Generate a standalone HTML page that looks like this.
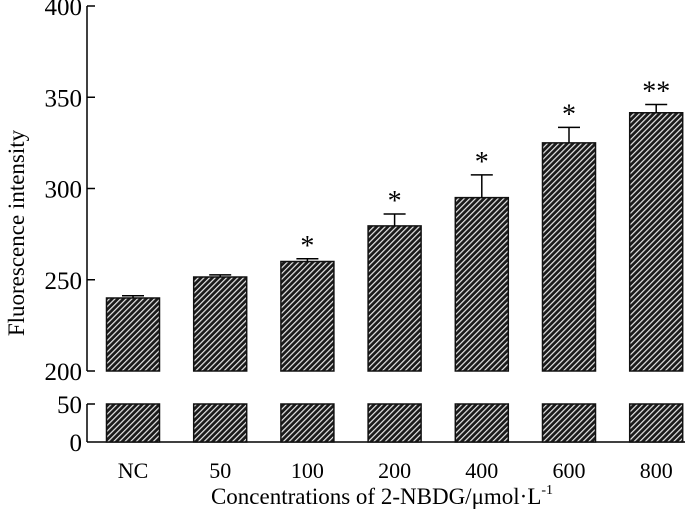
<!DOCTYPE html>
<html><head><meta charset="utf-8"><style>
html,body{margin:0;padding:0;background:#fff;}
svg{display:block;font-family:"Liberation Serif",serif;}
</style></head><body>
<svg id="chart" width="700" height="518" viewBox="0 0 700 518">
<defs>
<pattern id="hatch" patternUnits="userSpaceOnUse" width="4" height="4" patternTransform="rotate(45)">
<rect width="4" height="4" fill="#1a1a1a"/>
<rect x="0" y="0" width="1.2" height="4" fill="#e8e8e8"/>
</pattern>
</defs>
<g id="axes"></g>
<g id="bars"></g>
<text transform="translate(24,233) rotate(-90)" text-anchor="middle" font-size="23">Fluorescence intensity</text>
<text x="382" y="504" text-anchor="middle" font-size="23">Concentrations of 2-NBDG/μmol·L<tspan dy="-10" font-size="14">-1</tspan></text>
</svg>
<script>
const categories = ["NC","50","100","200","400","600","800"];
const values = [240, 251.5, 260, 279.5, 295, 325, 341.5];
const errors = [1.2, 1.2, 1.5, 6.5, 12.5, 8.5, 4.5];
const stars = ["", "", "*", "*", "*", "*", "**"];
const upperTicks = [200, 250, 300, 350, 400];
const lowerTicks = [0, 50];

const NS = "http://www.w3.org/2000/svg";
const axisX = 87, upBottom = 371, upTop = 6, lowBottom = 442, lowTop = 404;
function yUp(v){ return upBottom - (v - 200) / 200 * (upBottom - upTop); }
function yLow(v){ return lowBottom - v / 50 * (lowBottom - lowTop); }
function xC(i){ return 133 + i * 87.2; }
const barW = 53;
function mk(tag, attrs, parent){ const e = document.createElementNS(NS, tag); for (const k in attrs) e.setAttribute(k, attrs[k]); parent.appendChild(e); return e; }
const axes = document.getElementById('axes'), bars = document.getElementById('bars');

let l = mk('line', {x1:axisX, y1:upTop, x2:axisX, y2:upBottom, stroke:'#000', 'stroke-width':1.5}, axes);


l = mk('line', {x1:axisX, y1:lowTop, x2:axisX, y2:lowBottom, stroke:'#000', 'stroke-width':1.5}, axes);


l = mk('line', {x1:axisX, y1:lowBottom, x2:685, y2:lowBottom, stroke:'#000', 'stroke-width':1.5}, axes);



upperTicks.forEach(v => {
  const y = yUp(v);
  const t = mk('line', {x1:axisX, y1:y, x2:axisX+8, y2:y, stroke:'#000', 'stroke-width':1.5}, axes);
  
  
  const tx = mk('text', {x:82, y:y+9, 'text-anchor':'end', 'font-size':25}, axes);
  tx.textContent = v;
  
  
});
lowerTicks.forEach(v => {
  const y = yLow(v);
  if (v > 0) {
    const t = mk('line', {x1:axisX, y1:y, x2:axisX+8, y2:y, stroke:'#000', 'stroke-width':1.5}, axes);
    
    
  }
  const tx = mk('text', {x:82, y:y+9, 'text-anchor':'end', 'font-size':25}, axes);
  tx.textContent = v;
  
  
});

categories.forEach((c, i) => {
  const cx = xC(i), x0 = cx - barW/2;
  const yt = yUp(values[i]);
  const r = mk('rect', {x:x0, y:yt, width:barW, height:upBottom-yt, fill:'url(#hatch)', stroke:'#111', 'stroke-width':1.5}, bars);
  
  
  const r2 = mk('rect', {x:x0, y:lowTop, width:barW, height:lowBottom-lowTop, fill:'url(#hatch)', stroke:'#111', 'stroke-width':1.5}, bars);
  
  
  const ye = yUp(values[i] + errors[i]);
  const e1 = mk('line', {x1:cx, y1:yt, x2:cx, y2:ye, stroke:'#000', 'stroke-width':1.5}, bars);
  
  
  const e2 = mk('line', {x1:cx-11, y1:ye, x2:cx+11, y2:ye, stroke:'#000', 'stroke-width':1.5}, bars);
  
  
  if (stars[i]) {
    const s = mk('text', {x:cx, y:ye-4, 'text-anchor':'middle', 'font-size':28}, bars);
    s.textContent = stars[i];
    
    
  }
  const lbl = mk('text', {x:cx, y:478, 'text-anchor':'middle', 'font-size':22}, bars);
  lbl.textContent = c;
  
  
});
</script>
</body></html>
